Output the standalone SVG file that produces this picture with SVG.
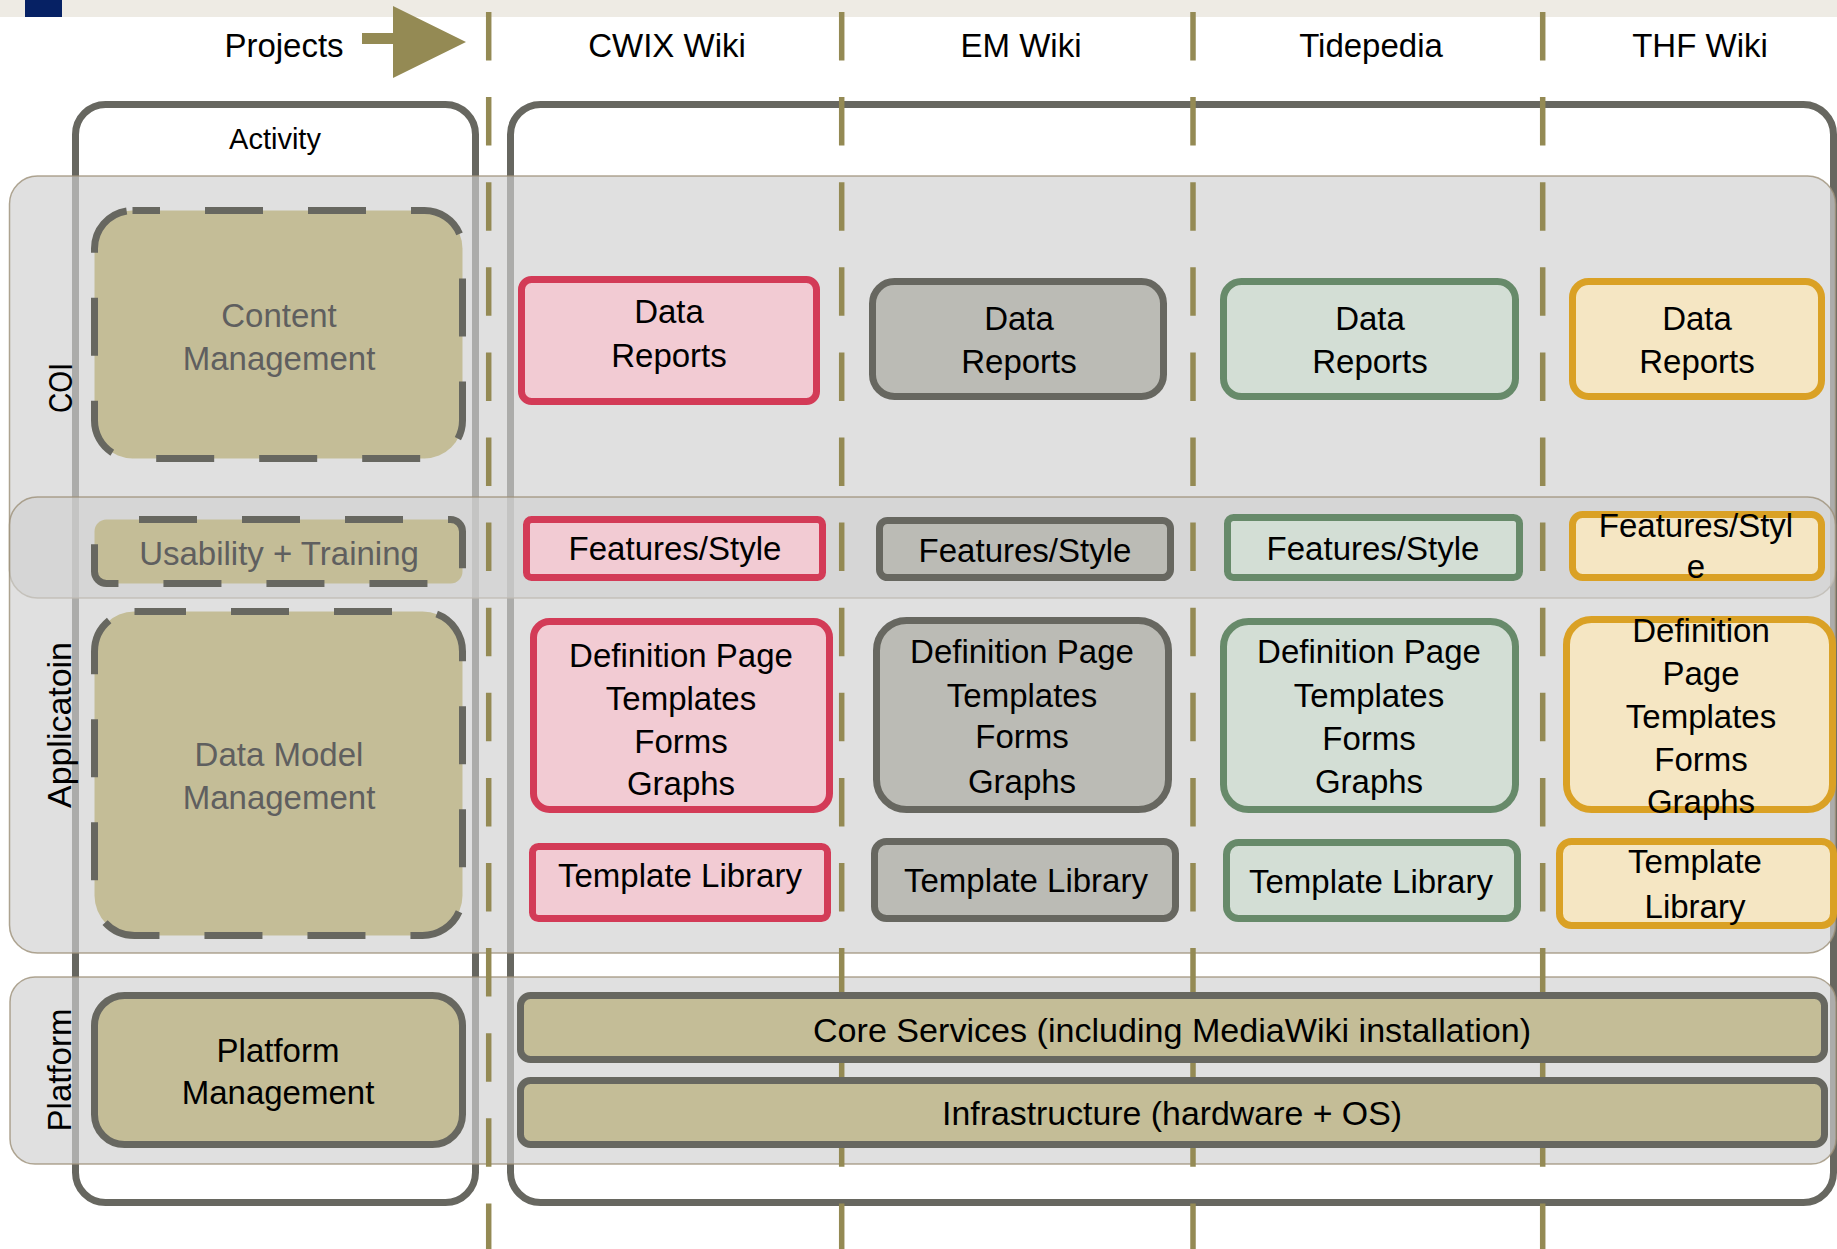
<svg xmlns="http://www.w3.org/2000/svg" width="1837" height="1249" viewBox="0 0 1837 1249">
<style>
text{font-family:"Liberation Sans",Arial,sans-serif;font-size:33px;fill:#000;text-anchor:middle}
.g{fill:#5f5f5f}
.frame{fill:none;stroke:#676760;stroke-width:7}
.band{fill:#d0d0d0;fill-opacity:0.66;stroke:#9c9078;stroke-width:1.5;stroke-opacity:0.8}
.sep{stroke:#948a54;stroke-width:5.5;stroke-dasharray:48.5 36.6;fill:none}
.act{fill:#c4bd97;stroke:#676760;stroke-width:7;stroke-dasharray:58 45}
.plat{fill:#c4bd97;stroke:#676760;stroke-width:7}
.red{fill:#f2cbd3;stroke:#d33b57;stroke-width:7}
.gry{fill:#bbbbb5;stroke:#676760;stroke-width:7}
.grn{fill:#d3ded5;stroke:#678a6a;stroke-width:7}
.org{fill:#f5e6c3;stroke:#daa125;stroke-width:7}
</style>
<rect x="0" y="0" width="1837" height="17" fill="#eeebe4"/>
<rect x="25" y="0" width="37" height="17" fill="#062164"/>

<g id="frames">
<rect class="frame" x="75.5" y="104.5" width="400" height="1098" rx="30"/>
<rect class="frame" x="510.5" y="104.5" width="1323" height="1098" rx="30"/>
</g>

<g id="bands">
<rect class="band" x="9.5" y="176" width="1826" height="422" rx="28"/>
<rect class="band" x="9.5" y="497" width="1826" height="456" rx="28"/>
<rect class="band" x="10" y="977" width="1826" height="187" rx="25"/>
<text transform="translate(72,388) rotate(-90)" textLength="50" lengthAdjust="spacingAndGlyphs">COI</text>
<text transform="translate(71,725) rotate(-90)" textLength="166" lengthAdjust="spacingAndGlyphs">Applicatoin</text>
<text transform="translate(71,1070) rotate(-90)">Platform</text>
</g>

<g id="header">
<text x="284" y="57">Projects</text>
<text x="667" y="57">CWIX Wiki</text>
<text x="1021" y="57">EM Wiki</text>
<text x="1371" y="57">Tidepedia</text>
<text x="1700" y="57">THF Wiki</text>
<text x="275" y="149" style="font-size:29px">Activity</text>
</g>

<g id="connectors">
<polygon points="362,33 393,33 393,6 466,42 393,78 393,44 362,44" fill="#948a54"/>
<line class="sep" x1="488.7" y1="12" x2="488.7" y2="1249"/>
<line class="sep" x1="841.7" y1="12" x2="841.7" y2="1249"/>
<line class="sep" x1="1193" y1="12" x2="1193" y2="1249"/>
<line class="sep" x1="1542.7" y1="12" x2="1542.7" y2="1249"/>
</g>

<g id="content-management">
<rect class="act" x="94.5" y="210.5" width="368" height="248" rx="38" stroke-dashoffset="30.5"/>
<text class="g" x="279" y="327">Content</text>
<text class="g" x="279" y="370">Management</text>
</g>
<g id="usability-training">
<rect class="act" x="94.5" y="519.5" width="368" height="64" rx="12" stroke-dashoffset="70.5"/>
<text class="g" x="279" y="565">Usability + Training</text>
</g>
<g id="data-model-management">
<rect class="act" x="94.5" y="611.5" width="368" height="324" rx="40" stroke-dashoffset="6.5"/>
<text class="g" x="279" y="766">Data Model</text>
<text class="g" x="279" y="809">Management</text>
</g>
<g id="platform-management">
<rect class="plat" x="94.5" y="995.5" width="368" height="149" rx="30"/>
<text x="278" y="1062">Platform</text>
<text x="278" y="1104">Management</text>
</g>
<g id="core-services">
<rect class="plat" x="520.5" y="995.5" width="1304" height="64" rx="10"/>
<text x="1172" y="1042" textLength="718" lengthAdjust="spacingAndGlyphs">Core Services (including MediaWiki installation)</text>
</g>
<g id="infrastructure">
<rect class="plat" x="520.5" y="1080.5" width="1304" height="64" rx="10"/>
<text x="1172" y="1125" textLength="460" lengthAdjust="spacingAndGlyphs">Infrastructure (hardware + OS)</text>
</g>

<g id="cwix-data-reports">
<rect class="red" x="521.5" y="279.5" width="295" height="122" rx="10"/>
<text x="669" y="323">Data</text>
<text x="669" y="367">Reports</text>
</g>
<g id="em-data-reports">
<rect class="gry" x="872.5" y="281.5" width="291" height="115" rx="22"/>
<text x="1019" y="330">Data</text>
<text x="1019" y="373">Reports</text>
</g>
<g id="tide-data-reports">
<rect class="grn" x="1223.5" y="281.5" width="292" height="115" rx="18"/>
<text x="1370" y="330">Data</text>
<text x="1370" y="373">Reports</text>
</g>
<g id="thf-data-reports">
<rect class="org" x="1572.5" y="281.5" width="249" height="115" rx="16"/>
<text x="1697" y="330">Data</text>
<text x="1697" y="373">Reports</text>
</g>

<g id="cwix-features">
<rect class="red" x="526.5" y="519.5" width="296" height="58" rx="5"/>
<text x="675" y="560">Features/Style</text>
</g>
<g id="em-features">
<rect class="gry" x="879.5" y="520.5" width="291" height="57" rx="8"/>
<text x="1025" y="562">Features/Style</text>
</g>
<g id="tide-features">
<rect class="grn" x="1227.5" y="517.5" width="292" height="60" rx="6"/>
<text x="1373" y="560">Features/Style</text>
</g>
<g id="thf-features">
<rect class="org" x="1572.5" y="514.5" width="249" height="63" rx="10"/>
<text x="1696" y="537">Features/Styl</text>
<text x="1696" y="578">e</text>
</g>

<g id="cwix-definition">
<rect class="red" x="533.5" y="621.5" width="296" height="188" rx="16"/>
<text x="681" y="667">Definition Page</text>
<text x="681" y="710">Templates</text>
<text x="681" y="753">Forms</text>
<text x="681" y="795">Graphs</text>
</g>
<g id="em-definition">
<rect class="gry" x="876.5" y="620.5" width="292" height="189" rx="30"/>
<text x="1022" y="663">Definition Page</text>
<text x="1022" y="707">Templates</text>
<text x="1022" y="748">Forms</text>
<text x="1022" y="793">Graphs</text>
</g>
<g id="tide-definition">
<rect class="grn" x="1223.5" y="621.5" width="292" height="188" rx="25"/>
<text x="1369" y="663">Definition Page</text>
<text x="1369" y="707">Templates</text>
<text x="1369" y="750">Forms</text>
<text x="1369" y="793">Graphs</text>
</g>
<g id="thf-definition">
<rect class="org" x="1566.5" y="619.5" width="266" height="190" rx="25"/>
<text x="1701" y="642">Definition</text>
<text x="1701" y="685">Page</text>
<text x="1701" y="728">Templates</text>
<text x="1701" y="771">Forms</text>
<text x="1701" y="813">Graphs</text>
</g>

<g id="cwix-template-library">
<rect class="red" x="532.5" y="846.5" width="295" height="72" rx="6"/>
<text x="680" y="887">Template Library</text>
</g>
<g id="em-template-library">
<rect class="gry" x="874.5" y="841.5" width="301" height="77" rx="12"/>
<text x="1026" y="892">Template Library</text>
</g>
<g id="tide-template-library">
<rect class="grn" x="1226.5" y="842.5" width="291" height="76" rx="12"/>
<text x="1371" y="893">Template Library</text>
</g>
<g id="thf-template-library">
<rect class="org" x="1559.5" y="841.5" width="274" height="84" rx="12"/>
<text x="1695" y="873">Template</text>
<text x="1695" y="918">Library</text>
</g>
</svg>
